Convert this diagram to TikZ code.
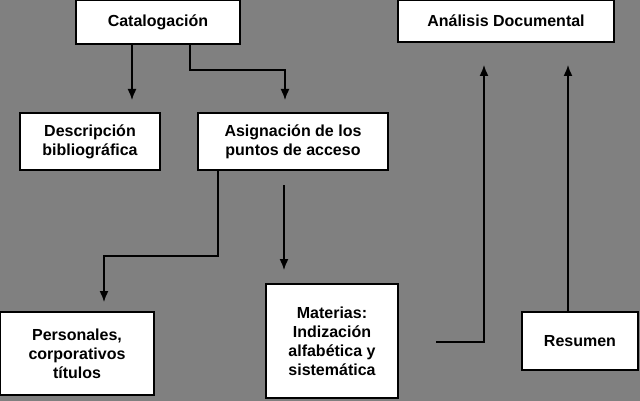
\documentclass[tikz,border=0pt]{standalone}
\usepackage{fontspec}
\setmainfont{Liberation Sans}
\usetikzlibrary{arrows.meta}
\begin{document}
\begin{tikzpicture}[x=1pt,y=-1pt,
 box/.style={draw=black,fill=white,line width=1.2pt,align=center,font=\bfseries\fontsize{16}{19}\selectfont,inner sep=0pt},
 arr/.style={-{Latex[length=11pt,width=9pt]},line width=1.5pt}]
\fill[black!50] (0,0) rectangle (640,401);
\useasboundingbox (0,0) rectangle (640,401);
\node[box,minimum width=164,minimum height=44] (cat) at (158,22) {Catalogación};
\node[box,minimum width=216,minimum height=42] (ana) at (506,21) {Análisis Documental};
\node[box,minimum width=140,minimum height=57] (des) at (90,141.5) {Descripción\\bibliográfica};
\node[box,minimum width=190,minimum height=57] (asi) at (293,141.5) {Asignación de los\\puntos de acceso};
\node[box,minimum width=154,minimum height=83] (per) at (77,353.5) {Personales,\\corporativos\\títulos};
\node[box,minimum width=132,minimum height=114] (mat) at (332,341) {Materias:\\Indización\\alfabética y\\sistemática};
\node[box,minimum width=116,minimum height=58] (res) at (580,341) {Resumen};
\coordinate (a1) at (132,100);
\coordinate (a2) at (285,100);
\coordinate (a3) at (104,302);
\coordinate (a4) at (284,270);
\coordinate (s5) at (436,342);
\coordinate (a5) at (484,65);
\coordinate (a6) at (568,65);
\draw[arr] (cat.south -| a1) -- (a1);
\draw[arr] (cat.south -| 190,0) -- (190,70) -- (285,70) -- (a2);
\draw[arr] (asi.south -| 218,0) -- (218,256) -- (104,256) -- (a3);
\draw[arr] (284,185) -- (a4);
\draw[arr] (s5) -- (484,342) -- (a5);
\draw[arr] (res.north -| a6) -- (a6);
\end{tikzpicture}
\end{document}
